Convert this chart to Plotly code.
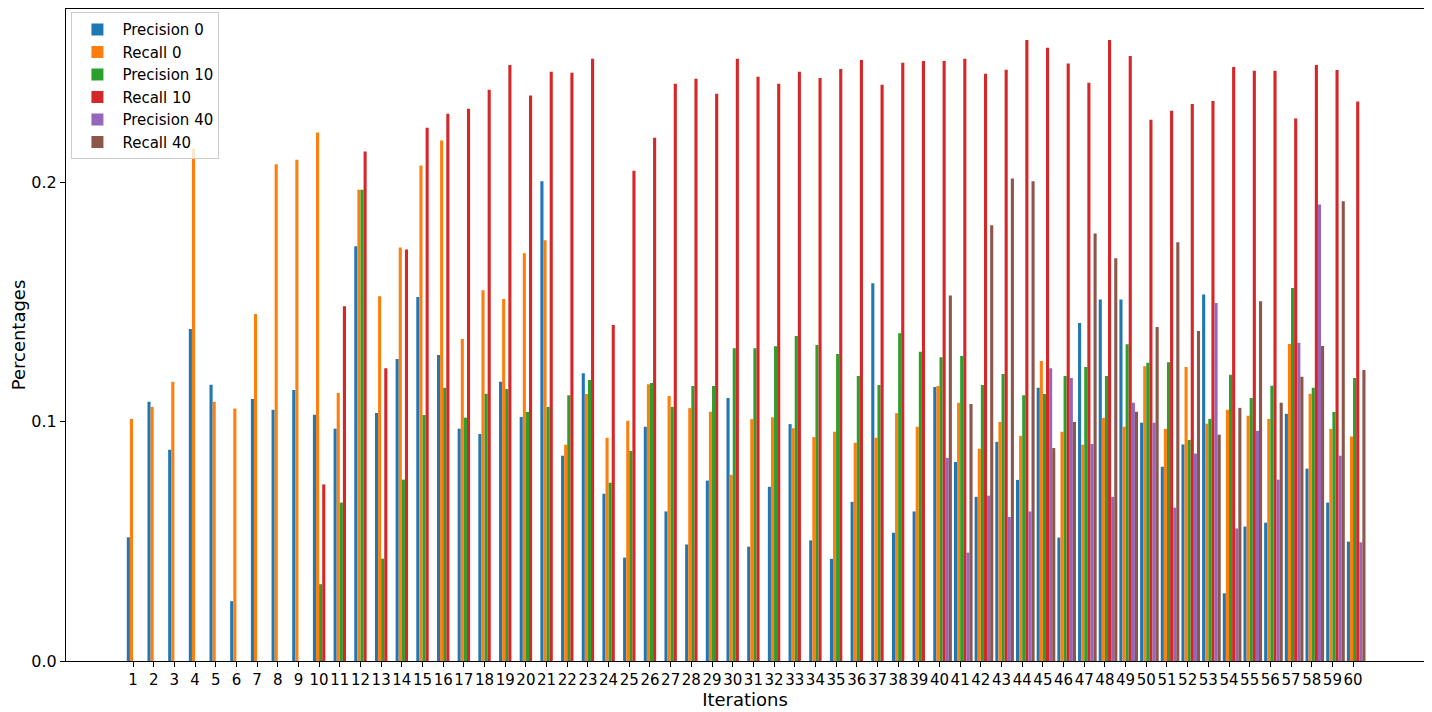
import plotly.graph_objects as go

iterations = list(range(1, 61))

precision_0 = [0.0517, 0.1083, 0.0883, 0.1388, 0.1155, 0.0250, 0.1095, 0.1050, 0.1133, 0.1029,
               0.0971, 0.1733, 0.1036, 0.1262, 0.1521, 0.1279, 0.0971, 0.0949, 0.1167, 0.1020,
               0.2005, 0.0858, 0.1203, 0.0699, 0.0432, 0.0979, 0.0625, 0.0487, 0.0754, 0.1099,
               0.0478, 0.0728, 0.0990, 0.0504, 0.0427, 0.0665, 0.1579, 0.0536, 0.0625, 0.1145,
               0.0832, 0.0686, 0.0916, 0.0757, 0.1142, 0.0516, 0.1413, 0.1511, 0.1511, 0.0996,
               0.0812, 0.0905, 0.1532, 0.0283, 0.0562, 0.0578, 0.1033, 0.0804, 0.0662, 0.0499]
recall_0 = [0.1012, 0.1062, 0.1167, 0.2141, 0.1083, 0.1055, 0.1450, 0.2076, 0.2095, 0.2209,
            0.1120, 0.1970, 0.1524, 0.1728, 0.2071, 0.2175, 0.1346, 0.1550, 0.1513, 0.1704,
            0.1758, 0.0904, 0.1116, 0.0933, 0.1004, 0.1157, 0.1108, 0.1057, 0.1042, 0.0778,
            0.1011, 0.1019, 0.0973, 0.0936, 0.0958, 0.0912, 0.0933, 0.1036, 0.0979, 0.1149,
            0.1079, 0.0887, 0.0999, 0.0941, 0.1254, 0.0958, 0.0904, 0.1016, 0.0979, 0.1232,
            0.0970, 0.1229, 0.0992, 0.1050, 0.1025, 0.1012, 0.1325, 0.1117, 0.0970, 0.0938]
precision_10 = [0, 0, 0, 0, 0, 0, 0, 0, 0, 0.0321,
                0.0662, 0.1970, 0.0428, 0.0758, 0.1028, 0.1142, 0.1017, 0.1117, 0.1137, 0.1041,
                0.1062, 0.1111, 0.1174, 0.0745, 0.0878, 0.1162, 0.1062, 0.1149, 0.1149, 0.1307,
                0.1307, 0.1316, 0.1358, 0.1321, 0.1283, 0.1191, 0.1154, 0.1370, 0.1292, 0.1270,
                0.1275, 0.1154, 0.1200, 0.1111, 0.1116, 0.1191, 0.1229, 0.1191, 0.1324, 0.1246,
                0.1249, 0.0924, 0.1012, 0.1196, 0.1099, 0.1150, 0.1559, 0.1142, 0.1041, 0.1183]
recall_10 = [0, 0, 0, 0, 0, 0, 0, 0, 0, 0.0738,
             0.1483, 0.2129, 0.1224, 0.1720, 0.2229, 0.2287, 0.2308, 0.2388, 0.2491, 0.2363,
             0.2463, 0.2459, 0.2517, 0.1404, 0.2049, 0.2187, 0.2413, 0.2434, 0.2371, 0.2517,
             0.2442, 0.2413, 0.2463, 0.2437, 0.2474, 0.2512, 0.2408, 0.2500, 0.2508, 0.2508,
             0.2517, 0.2454, 0.2471, 0.2595, 0.2563, 0.2497, 0.2417, 0.2595, 0.2529, 0.2262,
             0.2300, 0.2328, 0.2341, 0.2483, 0.2467, 0.2467, 0.2267, 0.2491, 0.2470, 0.2338]
precision_40 = [0] * 39 + [0.0849,
                0.0453, 0.0691, 0.0602, 0.0625, 0.1224, 0.1183, 0.0907, 0.0686, 0.1079, 0.0996,
                0.0641, 0.0867, 0.1496, 0.0554, 0.0962, 0.0758, 0.1330, 0.1908, 0.0858, 0.0496]
recall_40 = [0] * 39 + [0.1528,
             0.1074, 0.1821, 0.2017, 0.2005, 0.0890, 0.0999, 0.1787, 0.1683, 0.1042, 0.1396,
             0.1750, 0.1379, 0.0946, 0.1058, 0.1504, 0.1079, 0.1188, 0.1317, 0.1921, 0.1216]

series_names = ["Precision 0", "Recall 0", "Precision 10", "Recall 10", "Precision 40", "Recall 40"]
series_values = [precision_0, recall_0, precision_10, recall_10, precision_40, recall_40]
colors = ["#1f77b4", "#ff7f0e", "#2ca02c", "#d62728", "#9467bd", "#8c564b"]

bar_w = 0.15
fig = go.Figure()
for k, (name, vals, col) in enumerate(zip(series_names, series_values, colors)):
    fig.add_trace(go.Bar(
        x=iterations, y=vals, name=name,
        marker=dict(color=col, line=dict(width=0)),
        width=bar_w, offset=(k - 2) * bar_w,
    ))

font_family = "DejaVu Sans"
fig.update_layout(
    width=1432, height=712,
    barmode="overlay",
    paper_bgcolor="white", plot_bgcolor="white",
    margin=dict(l=58, r=16, t=1, b=59),
    font=dict(family=font_family, color="black"),
    showlegend=True,
    legend=dict(
        x=0.004, y=0.995, xanchor="left", yanchor="top",
        bgcolor="rgba(255,255,255,0.8)", bordercolor="#cccccc", borderwidth=1,
        font=dict(size=15, family=font_family), tracegroupgap=0,
        itemsizing="constant", itemwidth=40,
    ),
    xaxis=dict(
        range=[-2.24, 63.43], automargin=False,
        tickmode="array", tickvals=iterations, ticktext=[str(i) for i in iterations],
        tickangle=0,
        tickfont=dict(size=15), ticks="outside", ticklen=5, tickcolor="black",
        showline=True, linecolor="black", linewidth=1, mirror=True,
        showgrid=False, zeroline=False,
        title=dict(text="Iterations", font=dict(size=18), standoff=1),
    ),
    yaxis=dict(
        range=[0, 0.2725], automargin=False,
        tickmode="array", tickvals=[0, 0.1, 0.2], ticktext=["0.0", "0.1", "0.2"],
        tickfont=dict(size=16), ticks="outside", ticklen=5, tickcolor="black",
        showline=True, linecolor="black", linewidth=1, mirror=True,
        showgrid=False, zeroline=False,
        title=dict(text="Percentages", font=dict(size=18), standoff=4),
    ),
)

fig.write_html("out.html")
